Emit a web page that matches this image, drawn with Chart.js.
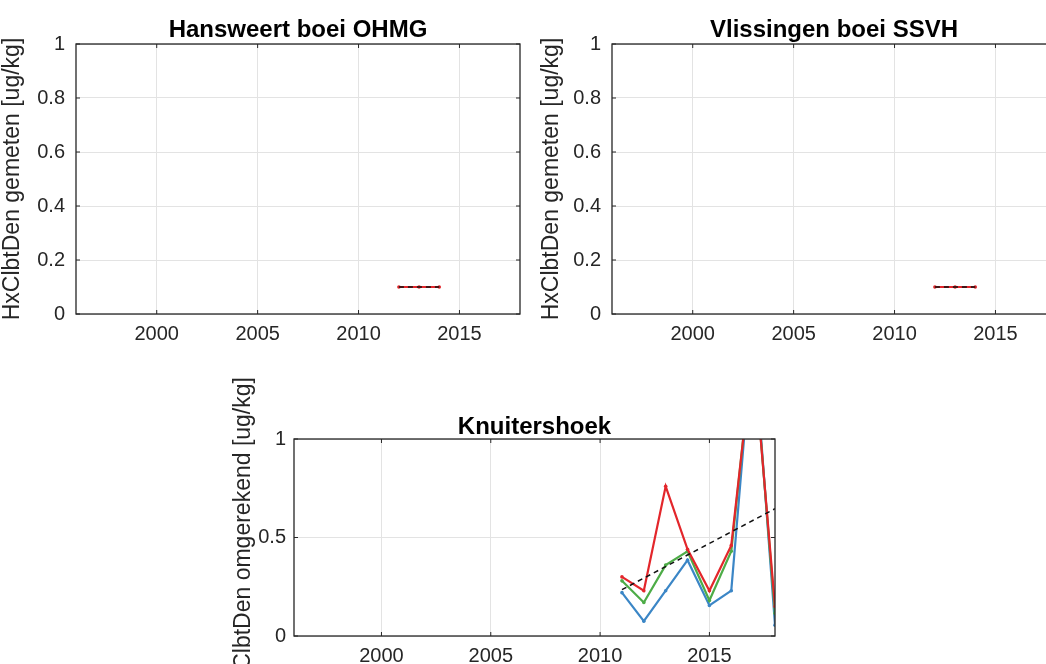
<!DOCTYPE html>
<html>
<head>
<meta charset="utf-8">
<title>HxClbtDen</title>
<script src="https://cdn.jsdelivr.net/npm/chart.js@4.4.1/dist/chart.umd.min.js"></script>
<style>
  html, body { margin: 0; padding: 0; background: #fff; }
  body { position: relative; width: 1046px; height: 664px; overflow: hidden; }
  canvas { position: absolute; }
</style>
</head>
<body>
<canvas id="hansweert" width="530" height="354" style="left:0px;top:0px"></canvas>
<canvas id="vlissingen" width="530" height="354" style="left:536px;top:0px"></canvas>
<canvas id="knuitershoek" width="553" height="306" style="left:232px;top:370px"></canvas>
<script>
// x axis (years)
const xTicks = [2000, 2005, 2010, 2015];
const yTicksTop = [0, 0.2, 0.4, 0.6, 0.8, 1];
const yTicksBottom = [0, 0.5, 1];

// Hansweert boei OHMG / Vlissingen boei SSVH
const hansYears = [2012, 2013, 2014];
const hansValues = [0.1, 0.1, 0.1];
const vlisYears = [2012, 2013, 2014];
const vlisValues = [0.1, 0.1, 0.1];

// Knuitershoek
const knuitYears = [2011, 2012, 2013, 2014, 2015, 2016, 2017, 2018];
const knuitRed = [0.30, 0.23, 0.76, 0.44, 0.23, 0.46, 1.45, 0.15];
const knuitGreen = [0.28, 0.17, 0.36, 0.43, 0.18, 0.43, 1.48, 0.115];
const knuitBlue = [0.22, 0.075, 0.23, 0.385, 0.155, 0.23, 1.55, 0.055];
const trendYears = [2011, 2018];
const trendValues = [0.235, 0.646];

const FONT = "'Liberation Sans', Arial, Helvetica, sans-serif";
const INK = '#262626';

const toPoints = (xs, ys) => xs.map((x, i) => ({ x, y: ys[i] }));

const lineSet = (xs, ys, color) => ({
  data: toPoints(xs, ys),
  borderColor: color,
  backgroundColor: color,
  borderWidth: 2.2,
  pointRadius: 1.8,
  pointBorderWidth: 0,
  pointBackgroundColor: color,
  tension: 0,
});

const trendSet = (xs, ys) => ({
  data: toPoints(xs, ys),
  borderColor: '#111',
  borderWidth: 1.5,
  borderDash: [5, 4],
  pointRadius: 0,
  tension: 0,
});

// matlab style box with inward ticks
const boxFrame = {
  id: 'boxFrame',
  afterDatasetsDraw(chart) {
    const { ctx, chartArea: a, scales } = chart;
    ctx.save();
    ctx.strokeStyle = INK;
    ctx.lineWidth = 1.3;
    ctx.strokeRect(a.left, a.top, a.right - a.left, a.bottom - a.top);
    ctx.lineWidth = 1;
    ctx.beginPath();
    scales.x.ticks.forEach((t) => {
      const px = scales.x.getPixelForValue(t.value);
      ctx.moveTo(px, a.bottom); ctx.lineTo(px, a.bottom - 4);
      ctx.moveTo(px, a.top); ctx.lineTo(px, a.top + 4);
    });
    scales.y.ticks.forEach((t) => {
      const py = scales.y.getPixelForValue(t.value);
      ctx.moveTo(a.left, py); ctx.lineTo(a.left + 4, py);
      ctx.moveTo(a.right, py); ctx.lineTo(a.right - 4, py);
    });
    ctx.stroke();
    ctx.restore();
  },
};

const makePanel = (id, title, yLabel, datasets, yTicks, cfg) => {
  const ctx = document.getElementById(id).getContext('2d');
  return new Chart(ctx, {
    type: 'line',
    data: { datasets },
    options: {
      responsive: false,
      animation: false,
      layout: { padding: { left: 0, right: 10, top: 0, bottom: 0 } },
      plugins: {
        legend: { display: false },
        tooltip: { enabled: false },
        title: {
          display: true,
          fullSize: false,
          text: title,
          color: '#000',
          font: { family: FONT, size: 24, weight: 'bold', lineHeight: 1 },
          padding: cfg.titlePad,
        },
      },
      scales: {
        x: {
          type: 'linear',
          min: 1996,
          max: 2018,
          afterBuildTicks: (axis) => { axis.ticks = xTicks.map((v) => ({ value: v })); },
          afterFit: (axis) => { axis.height = 40; },
          grid: { color: '#e3e3e3', drawTicks: false },
          border: { display: false },
          ticks: {
            color: INK,
            padding: 8,
            maxRotation: 0,
            font: { family: FONT, size: 20 },
            callback: (v) => String(v),
          },
        },
        y: {
          type: 'linear',
          min: 0,
          max: 1,
          afterBuildTicks: (axis) => { axis.ticks = yTicks.map((v) => ({ value: v })); },
          afterFit: (axis) => { axis.width = cfg.yWidth; },
          grid: { color: '#e3e3e3', drawTicks: false },
          border: { display: false },
          ticks: {
            color: INK,
            padding: cfg.yTickPad,
            font: { family: FONT, size: 20 },
            callback: (v) => String(v),
          },
          title: {
            display: true,
            text: yLabel,
            color: INK,
            font: { family: FONT, size: 23, lineHeight: 1 },
            padding: { top: cfg.yTitlePad, bottom: 0 },
          },
        },
      },
    },
    plugins: [boxFrame],
  });
};

const leftCfg = { titlePad: { top: 18, bottom: 2 }, yWidth: 76, yTitlePad: 1, yTickPad: 11 };
const rightCfg = { titlePad: { top: 18, bottom: 2 }, yWidth: 76, yTitlePad: 4, yTickPad: 11 };
const bottomCfg = { titlePad: { top: 45, bottom: 0 }, yWidth: 62, yTitlePad: 0, yTickPad: 8 };

makePanel('hansweert', 'Hansweert boei OHMG', 'HxClbtDen gemeten [ug/kg]', [
  trendSet(hansYears, hansValues),
  lineSet(hansYears, hansValues, '#e3262b'),
], yTicksTop, leftCfg);

makePanel('vlissingen', 'Vlissingen boei SSVH', 'HxClbtDen gemeten [ug/kg]', [
  trendSet(vlisYears, vlisValues),
  lineSet(vlisYears, vlisValues, '#e3262b'),
], yTicksTop, rightCfg);

makePanel('knuitershoek', 'Knuitershoek', 'HxClbtDen omgerekend [ug/kg]', [
  trendSet(trendYears, trendValues),
  lineSet(knuitYears, knuitRed, '#e3262b'),
  lineSet(knuitYears, knuitGreen, '#4dac47'),
  lineSet(knuitYears, knuitBlue, '#3b86c6'),
], yTicksBottom, bottomCfg);
</script>
</body>
</html>
